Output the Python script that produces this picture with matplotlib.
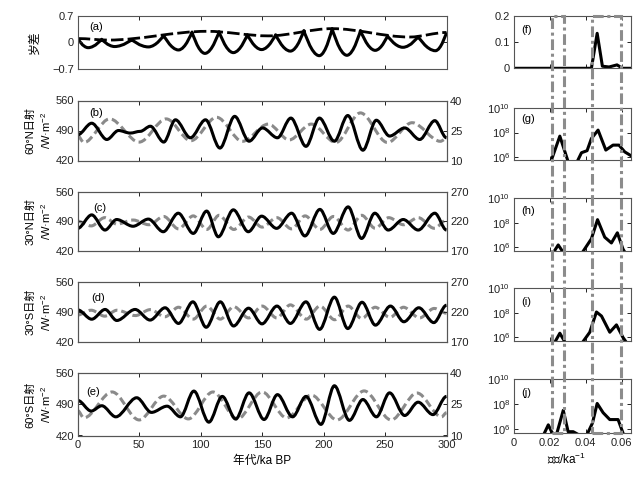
import numpy as np
import matplotlib
matplotlib.use("Agg")
import matplotlib.pyplot as plt
from matplotlib.path import Path
from matplotlib.patches import PathPatch, Rectangle
from matplotlib.ticker import NullLocator
from matplotlib.transforms import blended_transform_factory

plt.rcParams['font.family'] = ['Liberation Sans', 'Noto Sans CJK SC']
plt.rcParams['mathtext.fontset'] = 'custom'
plt.rcParams['mathtext.rm'] = 'Liberation Sans'
plt.rcParams['mathtext.it'] = 'Liberation Sans:italic'
plt.rcParams['mathtext.bf'] = 'Liberation Sans:bold'

# ---- time series (extrema), ka BP ----
a_solid_t = [0, 8.5, 19.5, 30, 44, 57.5, 70, 82, 93, 103.5, 115, 126.6, 138, 149.6,
             161, 173, 184, 196.5, 207, 219, 230, 242, 252, 264.5, 277, 291, 300]
a_solid_v = [0.1, -0.14, 0.08, -0.11, 0.07, -0.12, 0.18, -0.2, 0.27, -0.29, 0.28, -0.27,
             0.2, -0.19, 0.2, -0.23, 0.31, -0.35, 0.36, -0.34, 0.31, -0.21, 0.17, -0.13,
             0.15, -0.22, 0.26]
a_dash_t = [0, 25, 105, 155, 207, 270, 300]
a_dash_v = [0.1, 0.06, 0.29, 0.17, 0.36, 0.14, 0.26]

b_black_t = [0, 11.4, 23.7, 33.2, 42.7, 50.9, 59.1, 70, 79.5, 91.7, 104, 115.7, 127.7, 139.4,
             150.3, 162.5, 173.4, 185.7, 196.6, 208.8, 219.7, 232, 242.9, 253.7, 266, 278.2,
             290.5, 300]
b_black_v = [480, 507, 469, 490, 484, 488, 500, 463, 515, 473, 515, 449, 523, 465, 496, 473,
             519, 453, 519, 465, 525, 444, 514, 477, 496, 469, 513, 473]
b_gray_t = [0, 5, 26, 50, 72, 92, 113, 134, 155, 172, 190, 210, 230, 252, 272, 295, 300]
b_gray_v = [22.4, 19.0, 30.8, 19.2, 30.8, 19.9, 31.6, 19.6, 28.2, 20.3, 28.2, 19.0, 33.8,
            19.0, 28.9, 19.6, 21]

c_black_t = [0, 11.4, 22.2, 31.7, 45, 57.5, 69.6, 81.8, 94, 104.9, 114.4, 126.6, 138.8, 149.6,
             161.8, 174, 184.8, 197, 207.9, 220, 230.9, 241.7, 252.6, 264.8, 277, 290.5, 300]
c_black_v = [473, 505, 469, 494, 478, 495, 465, 509, 461, 514, 453, 517, 465, 502, 473, 509,
             455, 518, 461, 524, 449, 509, 469, 494, 469, 509, 469]
c_gray_t = [0, 11, 22, 32, 45, 58, 70, 82, 94, 105, 115, 127, 139, 150, 162, 174, 185, 197,
            208, 220, 231, 242, 253, 265, 277, 290, 300]
c_gray_v = [220, 212, 226, 215, 222, 214, 228, 207, 229, 206, 230, 206, 227, 210, 226, 207,
            229, 206, 228, 205, 230, 208, 226, 214, 226, 208, 222]

d_black_t = [0, 11.4, 22.3, 31.8, 46.7, 58.9, 71.1, 82, 93.7, 104.5, 116, 126.8, 139, 149.9,
             162.1, 173, 185.7, 196.8, 208.8, 219.7, 231.3, 242.2, 254.4, 265.3, 277.5, 289.7, 300]
d_black_v = [495, 473, 496, 470, 496, 471, 500, 463, 514, 454, 514, 457, 499, 462, 504, 463,
             514, 449, 525, 451, 513, 459, 504, 467, 500, 465, 506]
d_gray_t = [0, 11, 22, 32, 47, 59, 71, 82, 94, 105, 116, 127, 139, 150, 162, 173, 186, 197,
            209, 220, 231, 242, 254, 265, 278, 290, 300]
d_gray_v = [215, 223, 213, 223, 214, 224, 212, 228, 208, 230, 208, 229, 210, 230, 210, 232,
            208, 230, 207, 230, 209, 228, 211, 228, 210, 226, 218]

e_black_t = [0, 11, 19.6, 31, 48, 60, 72.7, 83.6, 94.5, 106.7, 117.6, 128.5, 139.4, 151.6,
             162.5, 174.8, 185.7, 197.9, 208.8, 221, 232, 243, 253.7, 266, 276.9, 289, 300]
e_black_v = [499, 475, 487, 462, 505, 472, 486, 462, 520, 450, 508, 457, 516, 456, 512, 462,
             508, 445, 532, 454, 501, 462, 516, 465, 495, 467, 508]
e_gray_t = [0, 5, 28, 50, 70, 90, 110, 130, 150, 170, 190, 211, 233, 255, 276, 296, 300]
e_gray_v = [22, 18.5, 31, 17.5, 29, 18, 31, 18, 31, 18.5, 29.5, 17.5, 31.5, 17.5, 30.5, 19, 21]

# ---- spectra, frequency in 1/ka ----
f_freq = [0, 0.0432, 0.0464, 0.0493, 0.053, 0.0574, 0.0605, 0.065]
f_pow = [0, 0, 0.133, 0.008, 0.005, 0.013, 0.0, 0]

g_freq = [0.0205, 0.0257, 0.0305, 0.035, 0.0377, 0.0408, 0.0432, 0.0469, 0.0512, 0.0552,
          0.0585, 0.0617, 0.065]
g_logp = [5.5, 7.7, 5.5, 5.5, 6.33, 6.5, 7.5, 8.2, 6.55, 6.96, 6.96, 6.4, 6.1]
h_freq = [0.0218, 0.0248, 0.028, 0.0378, 0.0432, 0.0466, 0.0506, 0.0543, 0.0576, 0.0607, 0.063]
h_logp = [5.5, 6.2, 5.5, 5.5, 6.7, 8.26, 6.83, 6.36, 7.19, 5.87, 5.3]
i_freq = [0.0225, 0.0257, 0.029, 0.0378, 0.0423, 0.046, 0.0488, 0.0534, 0.0571, 0.0607, 0.064]
i_logp = [5.5, 6.34, 5.5, 5.5, 6.42, 8.07, 7.74, 6.42, 7.02, 6.0, 5.3]
j_freq = [0.0165, 0.0193, 0.0211, 0.0235, 0.0276, 0.0303, 0.0331, 0.037, 0.0405, 0.0438,
          0.0464, 0.0497, 0.0534, 0.058, 0.0615]
j_logp = [5.5, 6.36, 5.81, 5.4, 7.52, 5.81, 5.81, 5.5, 5.5, 6.5, 8.07, 7.33, 6.78, 6.78, 5.4]

band1 = [0.0211, 0.0281]
band2 = [0.0436, 0.0595]

left_ylabels = ["60°N日射\n/W·m$^{-2}$", "30°N日射\n/W·m$^{-2}$",
                "30°S日射\n/W·m$^{-2}$", "60°S日射\n/W·m$^{-2}$"]
right_ranges = [(10, 40), (170, 270), (170, 270), (10, 40)]
panel_tags = ["(b)", "(c)", "(d)", "(e)"]

FS = 8


def wave(ax, t, v, cusp=False, transform=None, **kw):
    # smooth curve through the read extrema (flat tangents at each one)
    verts = [(t[0], v[0])]
    codes = [Path.MOVETO]
    for i in range(len(t) - 1):
        dt = t[i + 1] - t[i]
        c1 = (t[i] + dt / 3, v[i])
        c2 = (t[i + 1] - dt / 3, v[i + 1])
        if cusp:
            if v[i] > v[i + 1]:
                c1 = (t[i], v[i])
                c2 = (t[i + 1] - dt * 0.5, v[i + 1])
            else:
                c1 = (t[i] + dt * 0.5, v[i])
                c2 = (t[i + 1], v[i + 1])
        verts += [c1, c2, (t[i + 1], v[i + 1])]
        codes += [Path.CURVE4, Path.CURVE4, Path.CURVE4]
    p = PathPatch(Path(verts, codes), fill=False, capstyle='butt', joinstyle='round', **kw)
    if transform is not None:
        p.set_transform(transform)
    ax.add_patch(p)


def style(ax, right=True):
    ax.tick_params(direction='in', length=3, width=0.7, labelsize=FS, top=True,
                   right=right, pad=2.5, colors='#222222')
    ax.tick_params(axis='x', pad=3.5)
    for s in ax.spines.values():
        s.set_linewidth(0.8)
        s.set_color('#555555')


fig = plt.figure(figsize=(6.41, 4.79), dpi=100)

W, H = 641.0, 479.0
def pos(x0, x1, y0, y1):
    return [x0 / W, 1 - y1 / H, (x1 - x0) / W, (y1 - y0) / H]

left_rows = [(15.7, 69), (100.5, 160.5), (191.7, 250.7), (282.3, 341.7), (373.3, 435.5)]
right_rows = [(15.7, 68.3), (108.3, 160), (198.3, 250.7), (288.3, 340.7), (379.3, 432.7)]

# (a)
ax = fig.add_axes(pos(77.7, 446.5, *left_rows[0]))
wave(ax, a_dash_t, a_dash_v, edgecolor='black', lw=2.0, linestyle=(0, (4.5, 1.5)))
wave(ax, a_solid_t, a_solid_v, cusp=True, edgecolor='black', lw=2.2)
ax.set_xlim(0, 300)
ax.set_ylim(-0.7, 0.7)
ax.set_xticks(range(0, 301, 50))
ax.set_yticks([-0.7, 0, 0.7])
ax.set_yticklabels(["\u22120.7", "0", "0.7"])
ax.tick_params(labelbottom=False)
style(ax)
ax.text(0.03, 0.78, "(a)", transform=ax.transAxes, fontsize=FS, va='center')
fig.text(35 / W, 1 - 42 / H, "岁差", rotation=90, ha='center', va='center', fontsize=8.5)

series = [(b_black_t, b_black_v, b_gray_t, b_gray_v),
          (c_black_t, c_black_v, c_gray_t, c_gray_v),
          (d_black_t, d_black_v, d_gray_t, d_gray_v),
          (e_black_t, e_black_v, e_gray_t, e_gray_v)]
tag_pos = [(0.031, 0.79), (0.042, 0.72), (0.038, 0.73), (0.024, 0.70)]

for k in range(4):
    y0, y1 = left_rows[k + 1]
    ax = fig.add_axes(pos(77.7, 446.5, y0, y1))
    ax2 = ax.twinx()
    lo, hi = right_ranges[k]
    ax2.set_ylim(lo, hi)
    ax2.set_yticks([lo, (lo + hi) / 2, hi])
    ax2.set_yticklabels([str(lo), str(int((lo + hi) / 2)), str(hi)])
    bt, bv, gt, gv = series[k]
    wave(ax, gt, gv, transform=ax2.transData, edgecolor='#8a8a8a', lw=2.2,
         linestyle=(0, (2.6, 1.3)))
    wave(ax, bt, bv, edgecolor='black', lw=2.2, zorder=3)
    ax.set_xlim(0, 300)
    ax.set_ylim(420, 560)
    ax.set_yticks([420, 490, 560])
    ax.set_xticks(range(0, 301, 50))
    style(ax, right=False)
    style(ax2)
    ax2.tick_params(left=False, top=False)
    if k < 3:
        ax.tick_params(labelbottom=False)
    ax.text(tag_pos[k][0], tag_pos[k][1], panel_tags[k], transform=ax.transAxes,
            fontsize=FS, va='center')
    fig.text(39 / W, 1 - (y0 + y1) / 2 / H, left_ylabels[k], rotation=90, ha='center',
             va='center', fontsize=8, linespacing=1.3)

fig.text(261.7 / W, 1 - 461 / H, "年代/ka BP", ha='center', va='center', fontsize=8.5)

# spectra
spec = [(f_freq, f_pow), (g_freq, g_logp), (h_freq, h_logp), (i_freq, i_logp), (j_freq, j_logp)]
spec_tags = ["(f)", "(g)", "(h)", "(i)", "(j)"]
spec_tag_y = [0.73, 0.79, 0.76, 0.73, 0.74]
raxes = []
for k in range(5):
    y0, y1 = right_rows[k]
    ax = fig.add_axes(pos(513.5, 630.7, y0, y1))
    fx, fy = spec[k]
    if k == 0:
        ax.plot(fx, fy, color='black', lw=2.2, solid_joinstyle='round')
        ax.set_ylim(0, 0.2)
        ax.set_yticks([0, 0.1, 0.2])
        ax.set_yticklabels(["0", "0.1", "0.2"])
    else:
        ax.plot(fx, 10 ** np.array(fy), color='black', lw=2.2, solid_joinstyle='round')
        ax.set_yscale('log')
        ax.set_ylim(10 ** 5.73, 1e10)
        ax.set_yticks([1e6, 1e8, 1e10])
        ax.yaxis.set_minor_locator(NullLocator())
    ax.set_xlim(0, 0.065)
    ax.set_xticks([0, 0.02, 0.04, 0.06])
    ax.set_xticklabels(["0", "0.02", "0.04", "0.06"])
    style(ax)
    if k < 4:
        ax.tick_params(labelbottom=False)
    ax.text(0.07, spec_tag_y[k], spec_tags[k], transform=ax.transAxes, fontsize=FS,
            va='center')
    raxes.append(ax)

fig.text(566.7 / W, 1 - 459 / H, "频率/ka$^{-1}$", ha='center', va='center', fontsize=8.5)

# dash-dot boxes marking the two bands through all spectra
tr = blended_transform_factory(raxes[-1].transData, fig.transFigure)
ytop = 1 - 15.7 / H
ybot = 1 - 432.7 / H
for b in (band1, band2):
    r = Rectangle((b[0], ybot), b[1] - b[0], ytop - ybot, transform=tr, fill=False,
                  edgecolor='#8c8c8c', lw=2.2, linestyle=(0, (3.5, 1.2, 1, 1.2)), zorder=5)
    fig.add_artist(r)

fig.savefig("out.png", dpi=100)
